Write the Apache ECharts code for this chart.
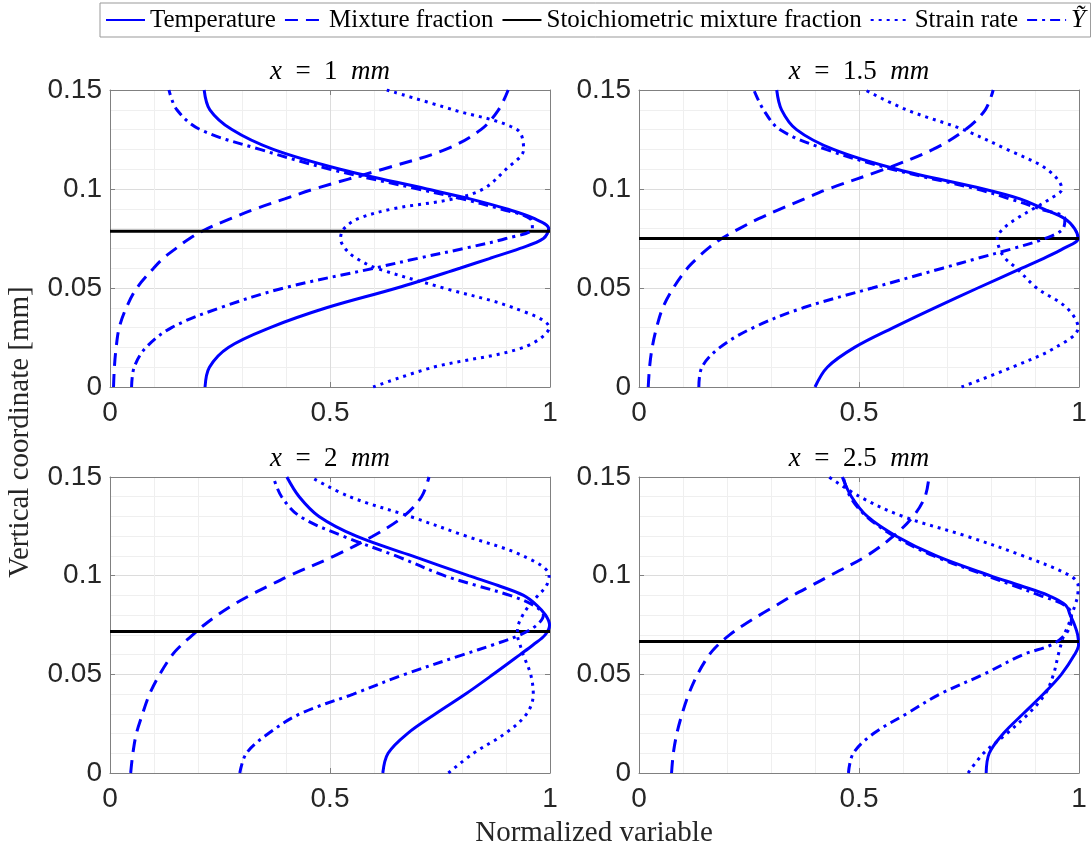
<!DOCTYPE html>
<html><head><meta charset="utf-8">
<script src="https://cdn.jsdelivr.net/npm/echarts@6/dist/echarts.min.js"></script>
<style>html,body{margin:0;padding:0;background:#fff}#c{width:1091px;height:852px}</style>
</head><body><div id="c"></div>
<script>
// Shared vertical coordinate levels [mm]
const yLevels = [0,0.01,0.02,0.03,0.04,0.05,0.06,0.065,0.07,0.075,0.08,0.085,0.09,0.095,0.1,0.11,0.12,0.13,0.14,0.15];
const xTicks = [0, 0.5, 1];
const yTicks = [0, 0.05, 0.1, 0.15];
const panelX = ['1', '1.5', '2', '2.5'];
const stoichY = [0.0786, 0.0750, 0.0717, 0.0667];
const seriesNames = ['Temperature', 'Mixture fraction', 'Stoichiometric mixture fraction', 'Strain rate', 'Ỹ'];

// x = 1 mm
const temp1   = [0.216,0.226,0.269,0.364,0.492,0.652,0.795,0.864,0.932,0.985,0.997,0.965,0.900,0.818,0.720,0.523,0.371,0.277,0.227,0.214];
const mix1    = [0.008,0.010,0.014,0.021,0.037,0.061,0.099,0.121,0.150,0.181,0.221,0.274,0.331,0.397,0.464,0.620,0.763,0.843,0.883,0.905];
const strain1 = [0.598,0.735,0.940,0.998,0.917,0.758,0.606,0.560,0.534,0.524,0.532,0.564,0.644,0.780,0.848,0.900,0.940,0.925,0.780,0.629];
const ytil1   = [0.049,0.055,0.082,0.140,0.250,0.395,0.600,0.700,0.805,0.900,0.960,0.955,0.886,0.800,0.700,0.500,0.341,0.205,0.152,0.134];
// x = 1.5 mm
const temp2   = [0.400,0.428,0.490,0.578,0.672,0.770,0.870,0.920,0.965,0.998,0.990,0.968,0.919,0.866,0.783,0.586,0.442,0.358,0.324,0.313];
const mix2    = [0.021,0.024,0.030,0.040,0.054,0.078,0.110,0.132,0.157,0.188,0.228,0.272,0.322,0.376,0.430,0.558,0.668,0.742,0.787,0.805];
const strain2 = [0.733,0.848,0.947,0.998,0.972,0.904,0.858,0.832,0.819,0.814,0.828,0.858,0.896,0.934,0.961,0.927,0.836,0.737,0.608,0.514];
const ytil2   = [0.136,0.143,0.184,0.260,0.373,0.530,0.690,0.770,0.851,0.923,0.964,0.968,0.911,0.843,0.767,0.575,0.425,0.320,0.283,0.261];
// x = 2 mm
const temp3   = [0.620,0.632,0.676,0.740,0.808,0.871,0.932,0.962,0.989,0.999,0.990,0.970,0.940,0.882,0.815,0.687,0.560,0.475,0.430,0.402];
const mix3    = [0.047,0.052,0.060,0.074,0.090,0.113,0.142,0.163,0.188,0.214,0.244,0.278,0.318,0.362,0.408,0.510,0.597,0.667,0.708,0.725];
const strain3 = [0.769,0.826,0.898,0.947,0.962,0.956,0.939,0.932,0.926,0.928,0.938,0.953,0.973,0.992,0.998,0.939,0.810,0.682,0.545,0.456];
const ytil3   = [0.295,0.310,0.360,0.432,0.553,0.670,0.803,0.871,0.932,0.970,0.985,0.962,0.909,0.833,0.760,0.650,0.530,0.432,0.390,0.371];
// x = 2.5 mm
const temp4   = [0.789,0.796,0.828,0.873,0.919,0.960,0.990,0.999,0.997,0.990,0.980,0.970,0.930,0.866,0.798,0.676,0.585,0.519,0.483,0.462];
const mix4    = [0.074,0.078,0.086,0.098,0.113,0.133,0.160,0.180,0.206,0.238,0.274,0.312,0.350,0.392,0.434,0.517,0.578,0.623,0.650,0.659];
const strain4 = [0.748,0.783,0.836,0.885,0.923,0.942,0.953,0.959,0.966,0.976,0.983,0.991,0.997,0.998,0.980,0.873,0.745,0.600,0.502,0.432];
const ytil4   = [0.476,0.487,0.533,0.608,0.684,0.783,0.873,0.938,0.968,0.981,0.983,0.968,0.911,0.851,0.790,0.670,0.580,0.517,0.480,0.464];

const panelData = [
  [temp1, mix1, strain1, ytil1],
  [temp2, mix2, strain2, ytil2],
  [temp3, mix3, strain3, ytil3],
  [temp4, mix4, strain4, ytil4]
];

const grids = [
  {left:110, top:90,  width:440, height:297},
  {left:639, top:90,  width:440, height:297},
  {left:110, top:477, width:440, height:296},
  {left:639, top:477, width:440, height:296}
];

const BLUE = '#0000ff';
const AX = '#808080';
const LW = 3;
const styles = {
  'Temperature': {color: BLUE, type: 'solid'},
  'Mixture fraction': {color: BLUE, type: [13, 8]},
  'Stoichiometric mixture fraction': {color: '#000000', type: 'solid'},
  'Strain rate': {color: BLUE, type: [3, 5]},
  'Ỹ': {color: BLUE, type: [10, 5, 3, 5]}
};
const tickFont = 'Liberation Sans, Arial, sans-serif';

const xAxes = [], yAxes = [], series = [], titles = [];
grids.forEach((g, i) => {
  const common = {gridIndex: i, type: 'value'};
  const xr = {min: xTicks[0], max: xTicks[xTicks.length-1], interval: xTicks[1]-xTicks[0]};
  const yr = {min: yTicks[0], max: yTicks[yTicks.length-1], interval: yTicks[1]-yTicks[0]};
  const line = {show: true, onZero: false, lineStyle: {color: AX, width: 1}};
  const tick = {show: true, inside: true, length: 5, lineStyle: {color: AX}};
  xAxes.push(Object.assign({}, common, xr, {
    position: 'bottom', axisLine: line, axisTick: tick,
    axisLabel: {show: true, fontSize: 28, fontFamily: tickFont, color: '#262626', margin: 12},
    splitLine: {show: true, lineStyle: {color: '#dcdcdc', width: 1}},
    minorTick: {show: false, splitNumber: 5},
    minorSplitLine: {show: true, lineStyle: {color: '#efefef', width: 1}}
  }));
  xAxes.push(Object.assign({}, common, xr, {
    position: 'top', axisLine: line, axisTick: tick, axisLabel: {show: false}, splitLine: {show: false}
  }));
  yAxes.push(Object.assign({}, common, yr, {
    position: 'left', axisLine: line, axisTick: tick,
    axisLabel: {show: true, fontSize: 28, fontFamily: tickFont, color: '#262626', margin: 8},
    splitLine: {show: true, lineStyle: {color: '#dcdcdc', width: 1}},
    minorTick: {show: false, splitNumber: 5},
    minorSplitLine: {show: true, lineStyle: {color: '#efefef', width: 1}}
  }));
  yAxes.push(Object.assign({}, common, yr, {
    position: 'right', axisLine: line, axisTick: tick, axisLabel: {show: false}, splitLine: {show: false}
  }));

  const [tp, mx, st, yt] = panelData[i];
  const mk = (name, arr) => ({
    name, type: 'line', xAxisIndex: 2*i, yAxisIndex: 2*i,
    data: arr.map((v, k) => [v, yLevels[k]]),
    smooth: 0.35, showSymbol: false, symbol: 'none', silent: true, animation: false,
    lineStyle: {color: styles[name].color, type: styles[name].type, width: LW, cap: 'butt'},
    itemStyle: {color: styles[name].color}
  });
  series.push(mk('Temperature', tp));
  series.push(mk('Mixture fraction', mx));
  series.push({
    name: 'Stoichiometric mixture fraction', type: 'line', xAxisIndex: 2*i, yAxisIndex: 2*i,
    data: [[xTicks[0], stoichY[i]], [xTicks[xTicks.length-1], stoichY[i]]],
    showSymbol: false, symbol: 'none', silent: true, animation: false,
    lineStyle: {color: '#000', width: 3}, itemStyle: {color: '#000'}
  });
  series.push(mk('Strain rate', st));
  series.push(mk('Ỹ', yt));

  titles.push({
    text: '{i|x}\u2002=\u2002' + panelX[i] + '\u2002{i|mm}',
    left: g.left + g.width/2, textAlign: 'center', top: g.top - 32, padding: 0,
    textStyle: {fontFamily: 'Liberation Serif, serif', fontSize: 27, fontWeight: 'normal', color: '#000',
      rich: {i: {fontFamily: 'Liberation Serif, serif', fontStyle: 'italic', fontSize: 27, color: '#000'}}}
  });
});

const chart = echarts.init(document.getElementById('c'), null, {renderer: 'canvas'});
chart.setOption({
  backgroundColor: '#ffffff',
  animation: false,
  title: titles,
  grid: grids.map(g => Object.assign({containLabel: false}, g)),
  xAxis: xAxes,
  yAxis: yAxes,
  legend: {
    data: seriesNames, left: 100, top: 3, orient: 'horizontal',
    itemWidth: 39, itemHeight: 14, itemGap: 8, padding: [4, 5],
    borderColor: '#999', borderWidth: 1, backgroundColor: '#fff',
    itemStyle: {opacity: 0},
    formatter: n => n === 'Ỹ' ? '{i|Ỹ}' : n,
    textStyle: {fontFamily: 'Liberation Serif, serif', fontSize: 25, color: '#000',
      rich: {i: {fontFamily: 'Liberation Serif, serif', fontStyle: 'italic', fontSize: 26, color: '#000'}}},
    selectedMode: false
  },
  series: series,
  graphic: [
    {type: 'text', x: 20, y: 432, rotation: Math.PI/2,
     style: {text: 'Vertical coordinate [mm]', font: '29px "Liberation Serif", serif', fill: '#262626', textAlign: 'center', textVerticalAlign: 'middle'}},
    {type: 'text', x: 594, y: 833,
     style: {text: 'Normalized variable', font: '29px "Liberation Serif", serif', fill: '#262626', textAlign: 'center', textVerticalAlign: 'middle'}}
  ]
});
</script>
</body></html>
